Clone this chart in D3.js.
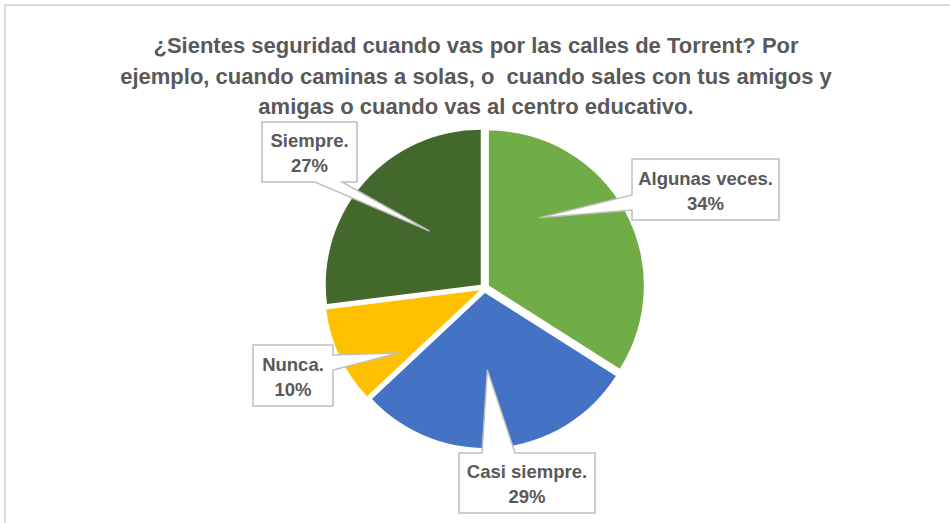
<!DOCTYPE html>
<html>
<head>
<meta charset="utf-8">
<script src="https://cdn.jsdelivr.net/npm/d3@7"></script>
<style>
  body { margin: 0; background: #fff; }
  svg { display: block; }
</style>
</head>
<body>
<svg width="950" height="523"></svg>
<script>
// data
let categories = ['Algunas veces.', 'Casi siempre.', 'Nunca.', 'Siempre.']
let percents = [34, 29, 10, 27]
let colors = ['#70AD47', '#4472C4', '#FFC000', '#43682B']
let titleLines = [
  '¿Sientes seguridad cuando vas por las calles de Torrent? Por',
  'ejemplo, cuando caminas a solas, o  cuando sales con tus amigos y',
  'amigas o cuando vas al centro educativo.'
]

// callout layout: box [x0, y0, x1, y1], side the pointer leaves from,
// base of the pointer along that side, tip as angle (deg) / distance from centre
let callouts = [
  { box: [632, 159, 779, 220], side: 'left', base: [195, 210], tip: [38, 89] },
  { box: [459, 453, 595, 513], side: 'top', base: [482, 515], tip: [178, 82] },
  { box: [253, 345, 333, 406], side: 'right', base: [355, 370], tip: [233, 108] },
  { box: [262, 122, 357, 182], side: 'bottom', base: [315, 342], tip: [316, 79] }
]

let data = categories.map((c, i) => ({ name: c, value: percents[i], color: colors[i] }))

let width = 950
let height = 523
let cx = 484.5
let cy = 288
let radius = 155
let explode = 5

const svg = d3.select('svg')

// chart frame (only top and left edges visible in the crop)
svg.append('line')
  .attr('x1', 5).attr('y1', 5).attr('x2', width).attr('y2', 5)
  .attr('stroke', '#d9d9d9').attr('stroke-width', 2)
svg.append('line')
  .attr('x1', 5).attr('y1', 5).attr('x2', 5).attr('y2', height)
  .attr('stroke', '#d9d9d9').attr('stroke-width', 2)

// title
svg.append('g')
  .selectAll('text')
  .data(titleLines)
  .enter()
  .append('text')
  .attr('x', 476)
  .attr('y', (d, i) => 53 + i * 30.5)
  .attr('text-anchor', 'middle')
  .attr('font-family', 'Liberation Sans, Arial, sans-serif')
  .attr('font-weight', 'bold')
  .attr('font-size', 22)
  .attr('fill', '#595959')
  .style('white-space', 'pre')
  .text(d => d)

let pie = d3.pie().sort(null).value(d => d.value)
let arc = d3.arc().innerRadius(0).outerRadius(radius)
let arcs = pie(data)

// slices, each pushed out a little along its bisector
svg.append('g')
  .attr('transform', `translate(${cx},${cy})`)
  .selectAll('path')
  .data(arcs)
  .enter()
  .append('path')
  .attr('d', arc)
  .attr('fill', d => d.data.color)
  .attr('transform', d => {
    let mid = (d.startAngle + d.endAngle) / 2
    return `translate(${Math.sin(mid) * explode},${-Math.cos(mid) * explode})`
  })

function calloutPath(c) {
  let [x0, y0, x1, y1] = c.box
  let a = c.tip[0] * Math.PI / 180
  let tx = cx + Math.sin(a) * c.tip[1]
  let ty = cy - Math.cos(a) * c.tip[1]
  let [b1, b2] = c.base
  let p = []
  p.push([x0, y0])
  if (c.side === 'top') p.push([b1, y0], [tx, ty], [b2, y0])
  p.push([x1, y0])
  if (c.side === 'right') p.push([x1, b1], [tx, ty], [x1, b2])
  p.push([x1, y1])
  if (c.side === 'bottom') p.push([b2, y1], [tx, ty], [b1, y1])
  p.push([x0, y1])
  if (c.side === 'left') p.push([x0, b2], [tx, ty], [x0, b1])
  return 'M' + p.map(q => q.join(',')).join('L') + 'Z'
}

let labels = svg.append('g')
  .selectAll('g')
  .data(arcs)
  .enter()
  .append('g')

labels.append('path')
  .attr('d', (d, i) => calloutPath(callouts[i]))
  .attr('fill', '#fff')
  .attr('stroke', '#bfbfbf')
  .attr('stroke-width', 1.5)
  .attr('stroke-linejoin', 'miter')

labels.append('text')
  .attr('x', (d, i) => (callouts[i].box[0] + callouts[i].box[2]) / 2)
  .attr('y', (d, i) => (callouts[i].box[1] + callouts[i].box[3]) / 2 - 5)
  .attr('text-anchor', 'middle')
  .attr('font-family', 'Liberation Sans, Arial, sans-serif')
  .attr('font-weight', 'bold')
  .attr('font-size', 18.5)
  .attr('fill', '#595959')
  .text(d => d.data.name)

labels.append('text')
  .attr('x', (d, i) => (callouts[i].box[0] + callouts[i].box[2]) / 2)
  .attr('y', (d, i) => (callouts[i].box[1] + callouts[i].box[3]) / 2 + 20)
  .attr('text-anchor', 'middle')
  .attr('font-family', 'Liberation Sans, Arial, sans-serif')
  .attr('font-weight', 'bold')
  .attr('font-size', 18.5)
  .attr('fill', '#595959')
  .text(d => d.data.value + '%')
</script>
</body>
</html>
